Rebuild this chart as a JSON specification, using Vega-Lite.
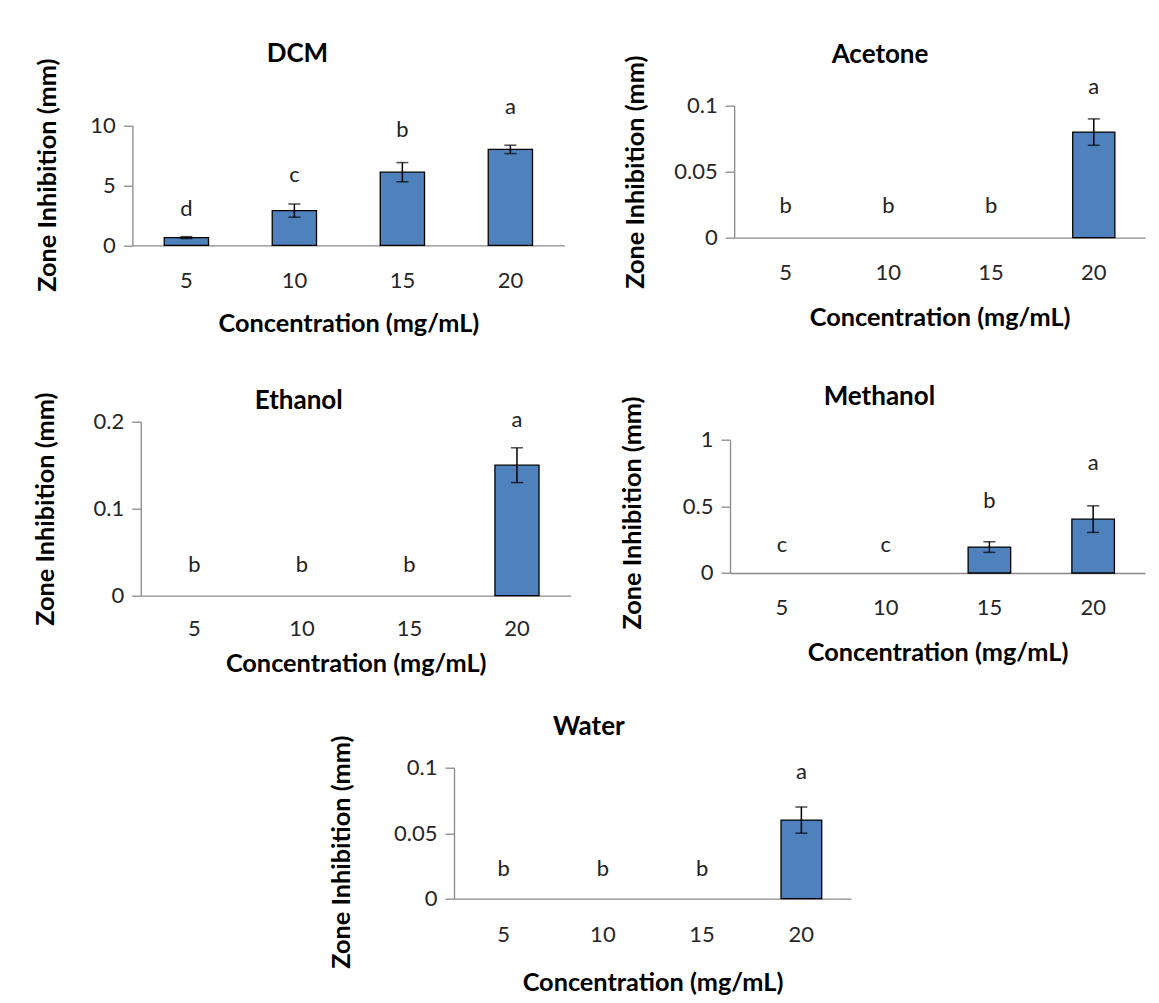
{
  "$schema": "https://vega.github.io/schema/vega-lite/v6.json",
  "background": "white",
  "padding": {"left": 33, "top": 40.7, "right": -12, "bottom": 2},
  "datasets": {
    "dcm": [
      {"conc": 5, "mean": 0.65, "lo": 0.57, "hi": 0.73, "letter": "d", "ly": 3.0},
      {"conc": 10, "mean": 2.9, "lo": 2.35, "hi": 3.45, "letter": "c", "ly": 5.9},
      {"conc": 15, "mean": 6.1, "lo": 5.3, "hi": 6.9, "letter": "b", "ly": 9.6},
      {"conc": 20, "mean": 8.0, "lo": 7.65, "hi": 8.35, "letter": "a", "ly": 11.5}
    ],
    "acetone": [
      {"conc": 5, "mean": 0, "lo": null, "hi": null, "letter": "b", "ly": 0.0237},
      {"conc": 10, "mean": 0, "lo": null, "hi": null, "letter": "b", "ly": 0.0237},
      {"conc": 15, "mean": 0, "lo": null, "hi": null, "letter": "b", "ly": 0.0237},
      {"conc": 20, "mean": 0.08, "lo": 0.07, "hi": 0.09, "letter": "a", "ly": 0.114}
    ],
    "ethanol": [
      {"conc": 5, "mean": 0, "lo": null, "hi": null, "letter": "b", "ly": 0.0356},
      {"conc": 10, "mean": 0, "lo": null, "hi": null, "letter": "b", "ly": 0.0356},
      {"conc": 15, "mean": 0, "lo": null, "hi": null, "letter": "b", "ly": 0.0356},
      {"conc": 20, "mean": 0.15, "lo": 0.13, "hi": 0.17, "letter": "a", "ly": 0.202}
    ],
    "methanol": [
      {"conc": 5, "mean": 0, "lo": null, "hi": null, "letter": "c", "ly": 0.212},
      {"conc": 10, "mean": 0, "lo": null, "hi": null, "letter": "c", "ly": 0.212},
      {"conc": 15, "mean": 0.195, "lo": 0.155, "hi": 0.235, "letter": "b", "ly": 0.545},
      {"conc": 20, "mean": 0.405, "lo": 0.305, "hi": 0.505, "letter": "a", "ly": 0.825}
    ],
    "water": [
      {"conc": 5, "mean": 0, "lo": null, "hi": null, "letter": "b", "ly": 0.0229},
      {"conc": 10, "mean": 0, "lo": null, "hi": null, "letter": "b", "ly": 0.0229},
      {"conc": 15, "mean": 0, "lo": null, "hi": null, "letter": "b", "ly": 0.0229},
      {"conc": 20, "mean": 0.06, "lo": 0.05, "hi": 0.07, "letter": "a", "ly": 0.097}
    ]
  },
  "vconcat": [
    {
      "vconcat": [
        {
          "hconcat": [
            {
              "width": 432, "height": 139.7,
              "title": {"text": "DCM", "dx": -51, "offset": -9.2},
              "data": {"name": "dcm"},
              "encoding": {
                "x": {"field": "conc", "type": "ordinal", "sort": [5, 10, 15, 20],
                      "scale": {"paddingInner": 0.59, "paddingOuter": 0.295},
                      "axis": {"title": "Concentration (mg/mL)", "titlePadding": 20}}
              },
              "layer": [
                {"transform": [{"filter": "datum.mean > 0"}],
                 "mark": {"type": "bar", "color": "#4F81BD", "stroke": "black", "strokeWidth": 1.3},
                 "encoding": {"y": {"field": "mean", "type": "quantitative",
                   "scale": {"domain": [0, 10], "nice": false, "range": [139.7, 19.7]},
                   "axis": {"title": "Zone Inhibition (mm)", "values": [0, 5, 10], "titlePadding": 29, "titleY": 69}}}},
                {"transform": [{"filter": "datum.hi != null"}],
                 "mark": {"type": "rule", "color": "black", "strokeWidth": 1.5},
                 "encoding": {"y": {"field": "lo", "type": "quantitative"}, "y2": {"field": "hi"}}},
                {"transform": [{"filter": "datum.hi != null"}],
                 "mark": {"type": "tick", "color": "black", "thickness": 1.5, "size": 12},
                 "encoding": {"y": {"field": "lo", "type": "quantitative"}}},
                {"transform": [{"filter": "datum.hi != null"}],
                 "mark": {"type": "tick", "color": "black", "thickness": 1.5, "size": 12},
                 "encoding": {"y": {"field": "hi", "type": "quantitative"}}},
                {"mark": {"type": "text", "fontSize": 22, "font": "Lato", "color": "#222222", "baseline": "middle"},
                 "encoding": {"y": {"field": "ly", "type": "quantitative"}, "text": {"field": "letter"}}}
              ]
            },
            {
              "width": 438.7, "height": 132,
              "title": {"text": "Acetone", "dx": -73.5, "offset": -12.5},
              "data": {"name": "acetone"},
              "encoding": {
                "x": {"field": "conc", "type": "ordinal", "sort": [5, 10, 15, 20],
                      "scale": {"paddingInner": 0.59, "paddingOuter": 0.295, "range": [0, 411]},
                      "axis": {"title": "Concentration (mg/mL)", "titlePadding": 22}}
              },
              "layer": [
                {"transform": [{"filter": "datum.mean > 0"}],
                 "mark": {"type": "bar", "color": "#4F81BD", "stroke": "black", "strokeWidth": 1.3},
                 "encoding": {"y": {"field": "mean", "type": "quantitative",
                   "scale": {"domain": [0, 0.1], "nice": false},
                   "axis": {"title": "Zone Inhibition (mm)", "values": [0, 0.05, 0.1], "titlePadding": 25}}}},
                {"transform": [{"filter": "datum.hi != null"}],
                 "mark": {"type": "rule", "color": "black", "strokeWidth": 1.5},
                 "encoding": {"y": {"field": "lo", "type": "quantitative"}, "y2": {"field": "hi"}}},
                {"transform": [{"filter": "datum.hi != null"}],
                 "mark": {"type": "tick", "color": "black", "thickness": 1.5, "size": 12},
                 "encoding": {"y": {"field": "lo", "type": "quantitative"}}},
                {"transform": [{"filter": "datum.hi != null"}],
                 "mark": {"type": "tick", "color": "black", "thickness": 1.5, "size": 12},
                 "encoding": {"y": {"field": "hi", "type": "quantitative"}}},
                {"mark": {"type": "text", "fontSize": 22, "font": "Lato", "color": "#222222", "baseline": "middle"},
                 "encoding": {"y": {"field": "ly", "type": "quantitative"}, "text": {"field": "letter"}}}
              ]
            }
          ],
          "spacing": 58.8
        },
        {
          "hconcat": [
            {
              "width": 430, "height": 174,
              "title": {"text": "Ethanol", "dx": -57, "offset": -21.8},
              "data": {"name": "ethanol"},
              "encoding": {
                "x": {"field": "conc", "type": "ordinal", "sort": [5, 10, 15, 20],
                      "scale": {"paddingInner": 0.59, "paddingOuter": 0.295},
                      "axis": {"title": "Concentration (mg/mL)", "titlePadding": 12, "labelPadding": 23}}
              },
              "layer": [
                {"transform": [{"filter": "datum.mean > 0"}],
                 "mark": {"type": "bar", "color": "#4F81BD", "stroke": "black", "strokeWidth": 1.3},
                 "encoding": {"y": {"field": "mean", "type": "quantitative",
                   "scale": {"domain": [0, 0.2], "nice": false},
                   "axis": {"title": "Zone Inhibition (mm)", "values": [0, 0.1, 0.2], "titlePadding": 35}}}},
                {"transform": [{"filter": "datum.hi != null"}],
                 "mark": {"type": "rule", "color": "black", "strokeWidth": 1.5},
                 "encoding": {"y": {"field": "lo", "type": "quantitative"}, "y2": {"field": "hi"}}},
                {"transform": [{"filter": "datum.hi != null"}],
                 "mark": {"type": "tick", "color": "black", "thickness": 1.5, "size": 12},
                 "encoding": {"y": {"field": "lo", "type": "quantitative"}}},
                {"transform": [{"filter": "datum.hi != null"}],
                 "mark": {"type": "tick", "color": "black", "thickness": 1.5, "size": 12},
                 "encoding": {"y": {"field": "hi", "type": "quantitative"}}},
                {"mark": {"type": "text", "fontSize": 22, "font": "Lato", "color": "#222222", "baseline": "middle"},
                 "encoding": {"y": {"field": "ly", "type": "quantitative"}, "text": {"field": "letter"}}}
              ]
            },
            {
              "width": 434.5, "height": 151.3,
              "title": {"text": "Methanol", "dx": -67.85, "offset": -14},
              "data": {"name": "methanol"},
              "encoding": {
                "x": {"field": "conc", "type": "ordinal", "sort": [5, 10, 15, 20],
                      "scale": {"paddingInner": 0.59, "paddingOuter": 0.295, "range": [0, 415]},
                      "axis": {"title": "Concentration (mg/mL)", "titlePadding": 22}}
              },
              "layer": [
                {"transform": [{"filter": "datum.mean > 0"}],
                 "mark": {"type": "bar", "color": "#4F81BD", "stroke": "black", "strokeWidth": 1.3},
                 "encoding": {"y": {"field": "mean", "type": "quantitative",
                   "scale": {"domain": [0, 1], "nice": false, "range": [151.3, 18.3]},
                   "axis": {"title": "Zone Inhibition (mm)", "values": [0, 0.5, 1], "titlePadding": 36.7, "titleY": 90.8}}}},
                {"transform": [{"filter": "datum.hi != null"}],
                 "mark": {"type": "rule", "color": "black", "strokeWidth": 1.5},
                 "encoding": {"y": {"field": "lo", "type": "quantitative"}, "y2": {"field": "hi"}}},
                {"transform": [{"filter": "datum.hi != null"}],
                 "mark": {"type": "tick", "color": "black", "thickness": 1.5, "size": 12},
                 "encoding": {"y": {"field": "lo", "type": "quantitative"}}},
                {"transform": [{"filter": "datum.hi != null"}],
                 "mark": {"type": "tick", "color": "black", "thickness": 1.5, "size": 12},
                 "encoding": {"y": {"field": "hi", "type": "quantitative"}}},
                {"mark": {"type": "text", "fontSize": 22, "font": "Lato", "color": "#222222", "baseline": "middle"},
                 "encoding": {"y": {"field": "ly", "type": "quantitative"}, "text": {"field": "letter"}}}
              ]
            }
          ],
          "spacing": 49.3
        }
      ],
      "spacing": 47,
      "center": true
    },
    {
      "width": 397, "height": 131,
      "title": {"text": "Water", "dx": -63.7, "offset": -4.5},
      "data": {"name": "water"},
      "encoding": {
        "x": {"field": "conc", "type": "ordinal", "sort": [5, 10, 15, 20],
              "scale": {"paddingInner": 0.59, "paddingOuter": 0.295},
              "axis": {"title": "Concentration (mg/mL)", "titlePadding": 25, "labelPadding": 26}}
      },
      "layer": [
        {"transform": [{"filter": "datum.mean > 0"}],
         "mark": {"type": "bar", "color": "#4F81BD", "stroke": "black", "strokeWidth": 1.3},
         "encoding": {"y": {"field": "mean", "type": "quantitative",
           "scale": {"domain": [0, 0.1], "nice": false},
           "axis": {"title": "Zone Inhibition (mm)", "values": [0, 0.05, 0.1], "titlePadding": 39, "titleY": 84}}}},
        {"transform": [{"filter": "datum.hi != null"}],
         "mark": {"type": "rule", "color": "black", "strokeWidth": 1.5},
         "encoding": {"y": {"field": "lo", "type": "quantitative"}, "y2": {"field": "hi"}}},
        {"transform": [{"filter": "datum.hi != null"}],
         "mark": {"type": "tick", "color": "black", "thickness": 1.5, "size": 12},
         "encoding": {"y": {"field": "lo", "type": "quantitative"}}},
        {"transform": [{"filter": "datum.hi != null"}],
         "mark": {"type": "tick", "color": "black", "thickness": 1.5, "size": 12},
         "encoding": {"y": {"field": "hi", "type": "quantitative"}}},
        {"mark": {"type": "text", "fontSize": 22, "font": "Lato", "color": "#222222", "baseline": "middle"},
         "encoding": {"y": {"field": "ly", "type": "quantitative"}, "text": {"field": "letter"}}}
      ]
    }
  ],
  "spacing": 35,
  "center": true,
  "config": {
    "font": "Lato",
    "view": {"stroke": null},
    "axis": {
      "labelFont": "Lato", "labelFontSize": 22, "labelColor": "#262626",
      "titleFont": "Lato", "titleFontSize": 25.3, "titleFontWeight": "bold", "titleColor": "black",
      "domainColor": "#898989", "domainWidth": 1.3, "tickColor": "#898989", "tickWidth": 1.3,
      "grid": false, "format": "~r"
    },
    "axisX": {"ticks": false, "tickSize": 0, "labelPadding": 25, "labelAngle": 0},
    "axisY": {"tickSize": 9, "labelPadding": 8},
    "title": {"font": "Lato", "fontSize": 26, "fontWeight": "bold", "color": "black", "anchor": "middle", "frame": "group"}
  }
}
